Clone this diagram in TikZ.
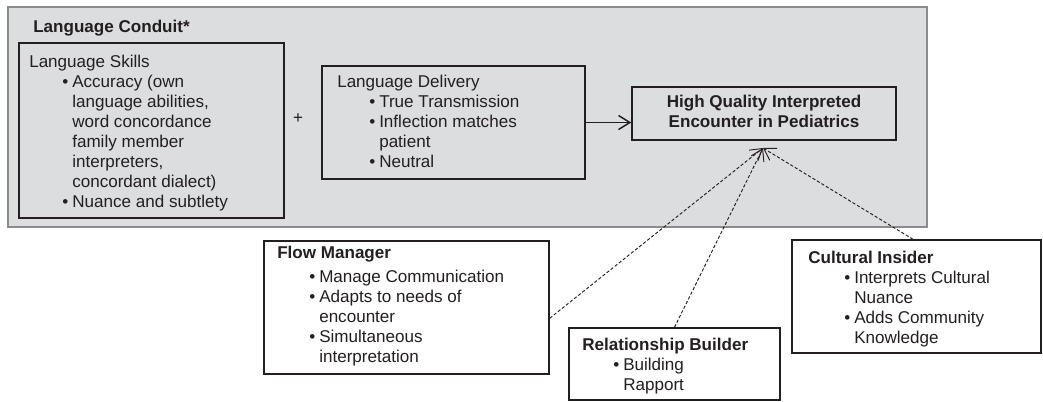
\documentclass[tikz,border=0pt]{standalone}
\usepackage{fontspec}
\setmainfont{Liberation Sans}
\usetikzlibrary{arrows.meta,calc,fit}
\newlength{\pxu}\setlength{\pxu}{0.75pt}
\definecolor{bggray}{RGB}{220,221,223}
\definecolor{edgegray}{RGB}{140,140,142}
\definecolor{ink}{RGB}{35,31,32}
\newcommand{\bl}[2]{\hspace*{#1\pxu}\makebox[#2\pxu][l]{•}}
\newcommand{\ind}[1]{\hspace*{#1\pxu}}
\begin{document}
\begin{tikzpicture}[x=0.75pt,y=-0.75pt,
  font=\fontsize{12.8}{15}\selectfont,
  grayarea/.style={fill=bggray, draw=edgegray, line width=0.9pt, inner sep=0pt},
  innerbox/.style={fill=bggray, draw=ink, line width=1.1pt, inner sep=0pt},
  whitebox/.style={fill=white, draw=ink, line width=1.1pt, inner sep=0pt},
  txt/.style={anchor=base west, inner sep=0pt, text=ink},
  solidarrow/.style={draw=ink, line width=1.1pt, -{Straight Barb[length=8.5pt,width=10.5pt]}},
  dasharrow/.style={draw=ink, line width=0.7pt, dash pattern=on 2.4pt off 1.5pt, -{Straight Barb[length=8.5pt,width=10.5pt]}}
]
\useasboundingbox (0,0) rectangle (1043,401);

% background area
\node[grayarea, fit={(8,7) (927,227)}] (conduit) {};
\node[txt, font=\fontsize{12.8}{15}\selectfont\bfseries] (conduitT) at (33,32) {Language Conduit*};

% language skills
\node[innerbox, fit={(19,43) (284,218)}] (skills) {};
\node[txt] (skillsT) at (29,67) {\parbox[t]{250\pxu}{Language Skills\\
\bl{33}{10}Accuracy (own\\
\ind{43}language abilities,\\
\ind{43}word concordance\\
\ind{43}family member\\
\ind{43}interpreters,\\
\ind{43}concordant dialect)\\
\bl{33}{10}Nuance and subtlety}};

\node[anchor=base, inner sep=0pt, text=ink] (plus) at (298,123) {+};

% language delivery
\node[innerbox, fit={(322,66) (585,179)}] (delivery) {};
\node[txt] (deliveryT) at (337,87) {\parbox[t]{245\pxu}{Language Delivery\\
\bl{32}{10}True Transmission\\
\bl{32}{10}Inflection matches\\
\ind{42}patient\\
\bl{32}{10}Neutral}};

% high quality encounter
\node[innerbox, fit={(632,87) (896,140)}] (hq) {};
\node[anchor=base, inner sep=0pt, text=ink] (hqT) at (764,107) {\parbox[t]{260\pxu}{\centering\bfseries High Quality Interpreted\\Encounter in Pediatrics}};

% flow manager
\node[whitebox, fit={(264,241) (549,374)}] (fm) {};
\node[txt] (fmT) at (277,258) {\parbox[t]{265\pxu}{\textbf{Flow Manager}\\[4\pxu]
\bl{32}{10}Manage Communication\\
\bl{32}{10}Adapts to needs of\\
\ind{42}encounter\\
\bl{32}{10}Simultaneous\\
\ind{42}interpretation}};

% relationship builder
\node[whitebox, fit={(569,328) (780,400)}] (rb) {};
\node[txt] (rbT) at (582,350) {\parbox[t]{195\pxu}{\textbf{Relationship Builder}\\
\bl{31}{10}Building\\
\ind{41}Rapport}};

% cultural insider
\node[whitebox, fit={(792,240) (1041,353)}] (ci) {};
\node[txt] (ciT) at (808,263) {\parbox[t]{230\pxu}{\textbf{Cultural Insider}\\
\bl{36}{10}Interprets Cultural\\
\ind{46}Nuance\\
\bl{36}{10}Adds Community\\
\ind{46}Knowledge}};

% connectors
\coordinate (tip) at (763,148);
\draw[solidarrow] (delivery.east) -- (delivery.east -| hq.west);
\draw[dasharrow] ($(fm.north east)!0.58!(fm.south east)$) -- (tip);
\draw[dasharrow] (rb.north) -- (tip);
\draw[dasharrow] ($(ci.north west)!0.486!(ci.north east)$) -- (tip);
\end{tikzpicture}
\end{document}
